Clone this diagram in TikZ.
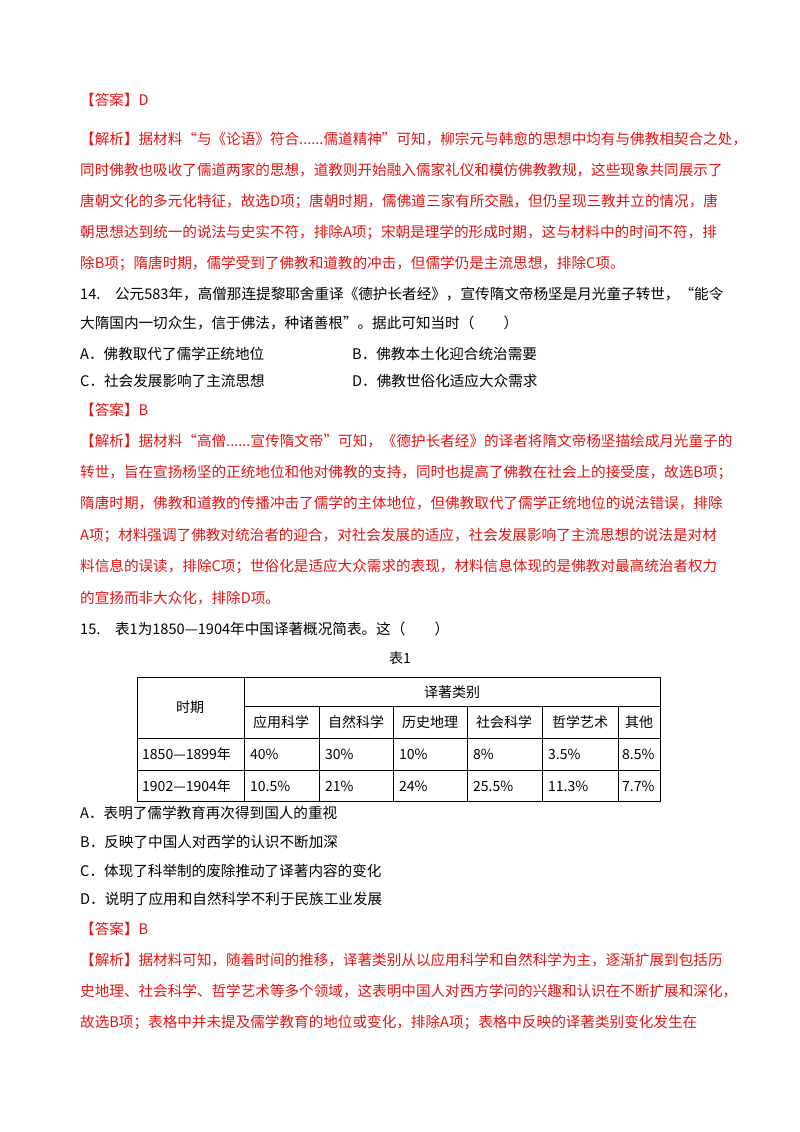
\documentclass[tikz,border=0pt]{standalone}
\usepackage{fontspec}
\setmainfont{Liberation Serif}
\newfontfamily\cjk{Noto Sans CJK SC}
\definecolor{ansred}{RGB}{228,20,20}
\tikzset{
	line/.style={anchor=west,inner sep=0pt,font=\cjk\fontsize{14.6}{17}\selectfont},
	red line/.style={line,text=ansred},
	cell/.style={inner sep=0pt,font=\cjk\fontsize{14}{16}\selectfont},
}
\begin{document}
\begin{tikzpicture}[x=1pt,y=-1pt]
	\useasboundingbox[fill=white] (0,0) rectangle (800,1132);
	% answer to 13
	\node[red line] (a13) at (80,100) {【答案】D};
	\node[red line] (e1) at (80,139) {【解析】据材料“与《论语》符合......儒道精神”可知，柳宗元与韩愈的思想中均有与佛教相契合之处，};
	\node[red line] (e2) at (80,170) {同时佛教也吸收了儒道两家的思想，道教则开始融入儒家礼仪和模仿佛教教规，这些现象共同展示了};
	\node[red line] (e3) at (80,201) {唐朝文化的多元化特征，故选D项；唐朝时期，儒佛道三家有所交融，但仍呈现三教并立的情况，唐};
	\node[red line] (e4) at (80,232) {朝思想达到统一的说法与史实不符，排除A项；宋朝是理学的形成时期，这与材料中的时间不符，排};
	\node[red line] (e5) at (80,263) {除B项；隋唐时期，儒学受到了佛教和道教的冲击，但儒学仍是主流思想，排除C项。};
	% question 14
	\node[line] (q1) at (80,294) {14.\quad 公元583年，高僧那连提黎耶舍重译《德护长者经》，宣传隋文帝杨坚是月光童子转世，“能令};
	\node[line] (q2) at (80,323) {大隋国内一切众生，信于佛法，种诸善根”。据此可知当时（\qquad）};
	\node[line] (oA) at (80,354) {A．佛教取代了儒学正统地位};
	\node[line] (oB) at (352,354) {B．佛教本土化迎合统治需要};
	\node[line] (oC) at (80,381) {C．社会发展影响了主流思想};
	\node[line] (oD) at (352,381) {D．佛教世俗化适应大众需求};
	\node[red line] (a14) at (80,410) {【答案】B};
	\node[red line] (f1) at (80,441) {【解析】据材料“高僧......宣传隋文帝”可知，《德护长者经》的译者将隋文帝杨坚描绘成月光童子的};
	\node[red line] (f2) at (80,472) {转世，旨在宣扬杨坚的正统地位和他对佛教的支持，同时也提高了佛教在社会上的接受度，故选B项；};
	\node[red line] (f3) at (80,503) {隋唐时期，佛教和道教的传播冲击了儒学的主体地位，但佛教取代了儒学正统地位的说法错误，排除};
	\node[red line] (f4) at (80,535) {A项；材料强调了佛教对统治者的迎合，对社会发展的适应，社会发展影响了主流思想的说法是对材};
	\node[red line] (f5) at (80,566) {料信息的误读，排除C项；世俗化是适应大众需求的表现，材料信息体现的是佛教对最高统治者权力};
	\node[red line] (f6) at (80,598) {的宣扬而非大众化，排除D项。};
	% question 15
	\node[line] (r1) at (80,629) {15.\quad 表1为1850—1904年中国译著概况简表。这（\qquad）};
	\node[cell] (cap) at (400,658) {表1};
	% table
	\draw[thick] (137,677) rectangle (660,801);
	\draw (244,677) -- (244,801);
	\draw (244,706) -- (660,706);
	\draw (137,738) -- (660,738);
	\draw (137,770) -- (660,770);
	\foreach \x in {319,393,467,542,618}
		\draw (\x,706) -- (\x,801);
	\node[cell] (h0) at (190,707) {时期};
	\node[cell] (h1) at (452,692) {译著类别};
	\node[cell] (c1) at (281,722) {应用科学};
	\node[cell] (c2) at (356,722) {自然科学};
	\node[cell] (c3) at (430,722) {历史地理};
	\node[cell] (c4) at (504,722) {社会科学};
	\node[cell] (c5) at (580,722) {哲学艺术};
	\node[cell] (c6) at (639,722) {其他};
	\node[cell,anchor=west] (y1) at (142,754) {1850—1899年};
	\node[cell,anchor=west] (y2) at (142,786) {1902—1904年};
	\node[cell,anchor=west] (v11) at (250,754) {40\%};
	\node[cell,anchor=west] (v12) at (325,754) {30\%};
	\node[cell,anchor=west] (v13) at (399,754) {10\%};
	\node[cell,anchor=west] (v14) at (473,754) {8\%};
	\node[cell,anchor=west] (v15) at (548,754) {3.5\%};
	\node[cell,anchor=west] (v16) at (622,754) {8.5\%};
	\node[cell,anchor=west] (v21) at (250,786) {10.5\%};
	\node[cell,anchor=west] (v22) at (325,786) {21\%};
	\node[cell,anchor=west] (v23) at (399,786) {24\%};
	\node[cell,anchor=west] (v24) at (473,786) {25.5\%};
	\node[cell,anchor=west] (v25) at (548,786) {11.3\%};
	\node[cell,anchor=west] (v26) at (622,786) {7.7\%};
	\node[line] (pA) at (80,813) {A．表明了儒学教育再次得到国人的重视};
	\node[line] (pB) at (80,842) {B．反映了中国人对西学的认识不断加深};
	\node[line] (pC) at (80,871) {C．体现了科举制的废除推动了译著内容的变化};
	\node[line] (pD) at (80,899) {D．说明了应用和自然科学不利于民族工业发展};
	\node[red line] (a15) at (80,929) {【答案】B};
	\node[red line] (g1) at (80,960) {【解析】据材料可知，随着时间的推移，译著类别从以应用科学和自然科学为主，逐渐扩展到包括历};
	\node[red line] (g2) at (80,991) {史地理、社会科学、哲学艺术等多个领域，这表明中国人对西方学问的兴趣和认识在不断扩展和深化，};
	\node[red line] (g3) at (80,1022) {故选B项；表格中并未提及儒学教育的地位或变化，排除A项；表格中反映的译著类别变化发生在};
\end{tikzpicture}
\end{document}
